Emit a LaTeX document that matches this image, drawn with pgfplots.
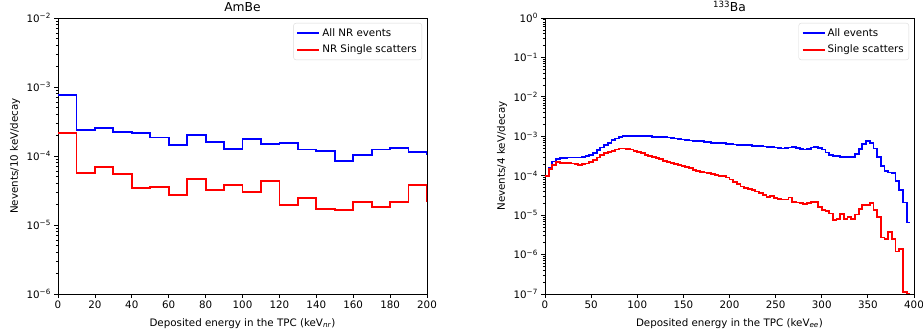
\documentclass[border=0pt]{standalone}
\usepackage{fontspec}
\setmainfont{DejaVu Sans}
\usepackage{pgfplots}
\usepackage{pgfplotstable}
\pgfplotsset{compat=1.18}
\newcommand{\fs}{\fontsize{10.3}{12.4}\selectfont}

\pgfplotstableread{
x blue red
0 7.57e-4 2.13e-4
10 2.41e-4 5.73e-5
20 2.55e-4 6.93e-5
30 2.23e-4 5.42e-5
40 2.13e-4 3.47e-5
50 1.85e-4 3.55e-5
60 1.43e-4 2.69e-5
70 2.04e-4 4.64e-5
80 1.58e-4 3.18e-5
90 1.26e-4 3.84e-5
100 1.75e-4 3.04e-5
110 1.51e-4 4.29e-5
120 1.54e-4 1.97e-5
130 1.24e-4 2.43e-5
140 1.19e-4 1.72e-5
150 8.47e-5 1.63e-5
160 1.03e-4 2.18e-5
170 1.24e-4 1.84e-5
180 1.29e-4 2.18e-5
190 1.14e-4 3.76e-5
200 1.08e-4 2.20e-5
210 1.08e-4 2.20e-5
}\ambe

\pgfplotstableread{
x blue red
0 1.0e-4 1.0e-4
4 1.6e-4 1.5e-4
8 2.3e-4 1.9e-4
12 2.65e-4 2.2e-4
16 2.8e-4 2.15e-4
20 2.85e-4 2.1e-4
24 2.9e-4 2.15e-4
28 2.9e-4 2.05e-4
32 2.9e-4 2.0e-4
36 2.9e-4 1.9e-4
40 3.0e-4 1.95e-4
44 3.15e-4 2.05e-4
48 3.4e-4 2.2e-4
52 3.8e-4 2.5e-4
56 4.5e-4 2.9e-4
60 5.2e-4 3.3e-4
64 5.9e-4 3.7e-4
68 6.6e-4 4.0e-4
72 7.9e-4 4.3e-4
76 8.8e-4 4.6e-4
80 9.4e-4 4.9e-4
84 1.0e-3 4.9e-4
88 1.03e-3 4.8e-4
92 1.04e-3 4.6e-4
96 1.04e-3 4.3e-4
100 1.04e-3 4.0e-4
104 1.03e-3 3.7e-4
108 1.02e-3 3.4e-4
112 1.0e-3 3.2e-4
116 9.8e-4 3.0e-4
120 9.7e-4 2.8e-4
124 9.6e-4 2.6e-4
128 9.5e-4 2.4e-4
132 9.3e-4 2.25e-4
136 9.0e-4 2.15e-4
140 8.8e-4 2.0e-4
144 8.6e-4 1.85e-4
148 8.3e-4 1.75e-4
152 8.0e-4 1.7e-4
156 7.8e-4 1.55e-4
160 7.7e-4 1.4e-4
164 7.6e-4 1.32e-4
168 7.5e-4 1.25e-4
172 7.3e-4 1.2e-4
176 7.0e-4 1.15e-4
180 6.9e-4 1.1e-4
184 6.8e-4 1.05e-4
188 6.7e-4 1.0e-4
192 6.6e-4 9.7e-5
196 6.4e-4 9.0e-5
200 6.3e-4 8.0e-5
204 6.2e-4 6.8e-5
208 6.1e-4 6.2e-5
212 6.0e-4 5.3e-5
216 5.9e-4 4.9e-5
220 5.9e-4 4.5e-5
224 5.8e-4 4.3e-5
228 5.7e-4 4.0e-5
232 5.6e-4 3.7e-5
236 5.5e-4 3.2e-5
240 5.4e-4 2.9e-5
244 5.3e-4 3.1e-5
248 5.2e-4 2.7e-5
252 5.1e-4 2.6e-5
256 4.9e-4 2.5e-5
260 5.0e-4 2.5e-5
264 5.2e-4 2.8e-5
268 5.3e-4 2.2e-5
272 5.1e-4 2.1e-5
276 4.8e-4 2.0e-5
280 4.6e-4 1.95e-5
284 4.8e-4 2.0e-5
288 5.2e-4 2.15e-5
292 5.3e-4 2.2e-5
296 5.1e-4 1.6e-5
300 4.6e-4 1.35e-5
304 3.9e-4 1.25e-5
308 3.4e-4 1.1e-5
312 3.2e-4 7.6e-6
316 3.1e-4 8.0e-6
320 3.0e-4 1.05e-5
324 3.05e-4 7.8e-6
328 3.0e-4 8.9e-6
332 3.05e-4 7.9e-6
336 3.6e-4 1.04e-5
340 4.8e-4 1.44e-5
344 6.3e-4 1.8e-5
348 7.6e-4 1.85e-5
352 6.8e-4 2.0e-5
356 4.9e-4 1.35e-5
360 3.0e-4 9.0e-6
364 1.75e-4 2.7e-6
368 1.3e-4 2.5e-6
372 1.2e-4 3.8e-6
376 1.15e-4 2.5e-6
380 7.5e-5 1.2e-6
384 4.3e-5 1.4e-6
388 2.1e-5 1.1e-7
392 6.5e-6 1.0e-7
396 6.5e-6 1.0e-7
}\bahist

\pgfplotsset{
 myax/.style={
  width=369pt, height=276pt, scale only axis,
  axis line style={line width=0.8pt},
  tick align=outside, xtick pos=bottom, ytick pos=left,
  major tick length=3.6pt, minor tick length=2.1pt,
  tick style={black, line width=0.8pt},
  minor tick style={black, line width=0.6pt},
  tick label style={font=\fs},
  /pgf/number format/assume math mode=true,
  label style={font=\fs},
  legend style={at={(1,1)}, anchor=north east, xshift=-5pt, yshift=-5pt, draw=black!15, rounded corners=2.5pt, font=\fs, inner xsep=3pt, inner ysep=3.5pt, row sep=3pt},
  legend cell align=left,
  legend image code/.code={\draw[##1] (0pt,0pt) -- (22pt,0pt);},
  xlabel style={at={(axis description cs:0.5,-0.116)}, anchor=base},
  ylabel style={at={(axis description cs:-0.1165,0.5)}, anchor=center},
 },
 hist/.style={line width=1.8pt, const plot mark left, mark=none},
}

\begin{document}
\begin{tikzpicture}
\begin{axis}[myax, ymode=log,
  at={(58pt,42pt)}, anchor=south west,
  xmin=0, xmax=200, ymin=1e-6, ymax=1e-2,
  xtick={0,20,...,200},
  ytick={1e-6,1e-5,1e-4,1e-3,1e-2},
  yticklabels={10\textsuperscript{−6},10\textsuperscript{−5},10\textsuperscript{−4},10\textsuperscript{−3},10\textsuperscript{−2}},
  minor ytick={2e-6,3e-6,4e-6,5e-6,6e-6,7e-6,8e-6,9e-6,2e-5,3e-5,4e-5,5e-5,6e-5,7e-5,8e-5,9e-5,2e-4,3e-4,4e-4,5e-4,6e-4,7e-4,8e-4,9e-4,2e-3,3e-3,4e-3,5e-3,6e-3,7e-3,8e-3,9e-3},
  xlabel={Deposited energy in the TPC (keV\textsubscript{\textit{nr}})},
  ylabel={Nevents/10 keV/decay},
]
\addplot[blue, hist] table[x=x,y=blue] {\ambe};
\addlegendentry{All NR events}
\addplot[red, hist] table[x=x,y=red] {\ambe};
\addlegendentry{NR Single scatters}
\end{axis}

\begin{axis}[myax, ymode=log,
  at={(545pt,42pt)}, anchor=south west,
  xmin=0, xmax=400, ymin=1e-7, ymax=1,
  xtick={0,50,...,400},
  ytick={1e-7,1e-6,1e-5,1e-4,1e-3,1e-2,1e-1,1},
  yticklabels={10\textsuperscript{−7},10\textsuperscript{−6},10\textsuperscript{−5},10\textsuperscript{−4},10\textsuperscript{−3},10\textsuperscript{−2},10\textsuperscript{−1},10\textsuperscript{0}},
  minor ytick={2e-7,3e-7,4e-7,5e-7,6e-7,7e-7,8e-7,9e-7,2e-6,3e-6,4e-6,5e-6,6e-6,7e-6,8e-6,9e-6,2e-5,3e-5,4e-5,5e-5,6e-5,7e-5,8e-5,9e-5,2e-4,3e-4,4e-4,5e-4,6e-4,7e-4,8e-4,9e-4,2e-3,3e-3,4e-3,5e-3,6e-3,7e-3,8e-3,9e-3,2e-2,3e-2,4e-2,5e-2,6e-2,7e-2,8e-2,9e-2,0.2,0.3,0.4,0.5,0.6,0.7,0.8,0.9},
  xlabel={Deposited energy in the TPC (keV\textsubscript{\textit{ee}})},
  ylabel={Nevents/4 keV/decay},
]
\addplot[blue, hist] table[x=x,y=blue] {\bahist};
\addlegendentry{All events}
\addplot[red, hist] table[x=x,y=red] {\bahist};
\addlegendentry{Single scatters}
\end{axis}
\node[font=\fontsize{12.3}{14}\selectfont, anchor=base, inner sep=0pt] at (242.5pt,324pt) {AmBe};
\node[font=\fontsize{12.3}{14}\selectfont, anchor=base, inner sep=0pt] at (729.5pt,324pt) {\textsuperscript{133}Ba};
\pgfresetboundingbox
\path[use as bounding box] (0,0) rectangle (923pt,336pt);
\end{tikzpicture}
\end{document}
